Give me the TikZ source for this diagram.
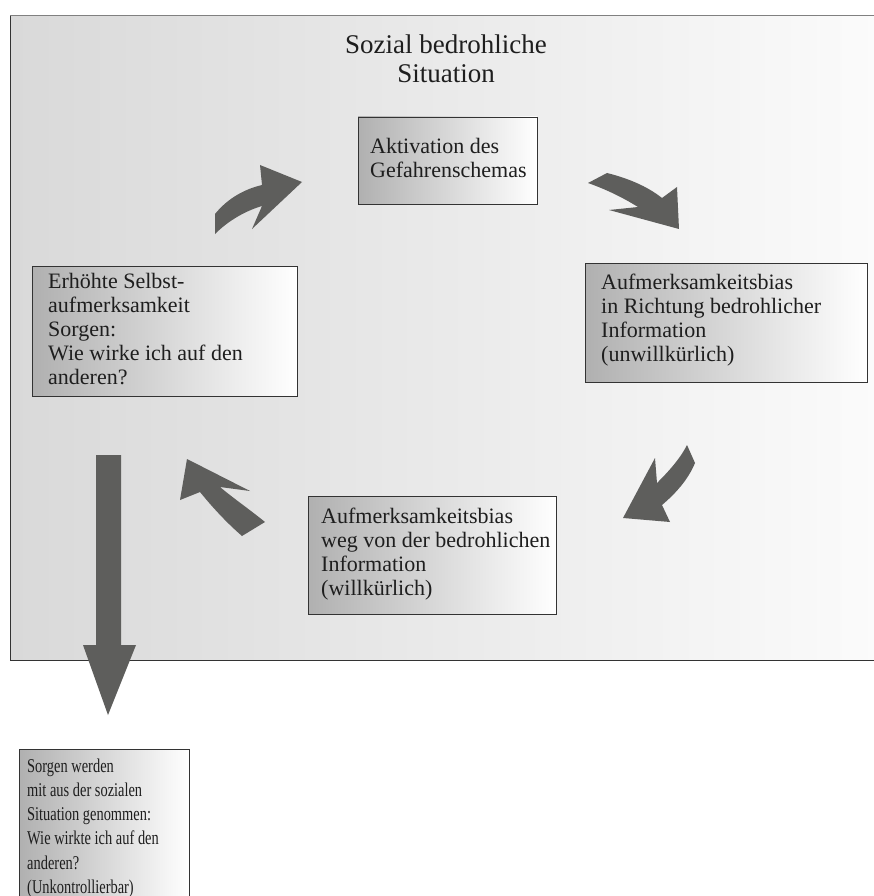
\documentclass[tikz,border=0pt]{standalone}
\usepackage{fontspec}
\setmainfont{Liberation Serif}
\newfontfamily\condfont[FakeStretch=0.74]{Liberation Serif}
\definecolor{frameleft}{HTML}{D9D9D9}
\definecolor{frameright}{HTML}{FBFBFB}
\definecolor{boxleft}{HTML}{B0B0B0}
\definecolor{boxline}{HTML}{333333}
\definecolor{arrowgray}{HTML}{5E5E5C}
\definecolor{txt}{HTML}{1E1E1E}
\begin{document}
\begin{tikzpicture}[x=1pt,y=-1pt,
  box/.style={draw=boxline, line width=0.9pt, left color=boxleft, right color=white, inner sep=0pt},
  boxtext/.style={anchor=west, align=left, text=txt, inner sep=0pt, font=\fontsize{22}{24}\selectfont},
  fatarrow/.style={fill=arrowgray, draw=none}]
\useasboundingbox (0,0) rectangle (874,896);
\clip (0,0) rectangle (874,896);
% outer frame
\fill[left color=frameleft, right color=frameright] (10,16) rectangle (880,660);
\draw[line width=1pt, gray] (880,16) -- (10,16);
\draw[line width=1pt, boxline] (10,16) -- (10,660) -- (880,660);
% title
\node[align=center, text=txt, inner sep=0pt, font=\fontsize{27}{29}\selectfont] (title) at (446,59) {Sozial bedrohliche\\Situation};
% boxes
\node[box, minimum width=179pt, minimum height=87pt] (akt) at (447.5,160.5) {};
\node[boxtext] (akttext) at (370,157.5) {Aktivation des\\Gefahrenschemas};
\node[box, minimum width=282pt, minimum height=119pt] (hin) at (726,322.5) {};
\node[boxtext] (hintext) at (601,320) {Aufmerksamkeitsbias\\in Richtung bedrohlicher\\Information\\(unwillkürlich)};
\node[box, minimum width=248pt, minimum height=118pt] (weg) at (432,555) {};
\node[boxtext] (wegtext) at (321,554) {Aufmerksamkeitsbias\\weg von der bedrohlichen\\Information\\(willkürlich)};
\node[box, minimum width=265pt, minimum height=130pt] (selbst) at (164.5,331) {};
\node[boxtext] (selbsttext) at (48,329) {Erhöhte Selbst-\\aufmerksamkeit\\Sorgen:\\Wie wirke ich auf den\\anderen?};
\node[box, minimum width=170pt, minimum height=170pt, anchor=north] (sorgen) at (104,749) {};
\node[boxtext, font=\condfont\fontsize{19.5}{24.2}\selectfont] (sorgentext) at (27,828) {Sorgen werden\\mit aus der sozialen\\Situation genommen:\\Wie wirkte ich auf den\\anderen?\\(Unkontrollierbar)};
% curved fat arrows
\fill[fatarrow] (215,214) .. controls (228,198) and (245,189) .. (262,185) -- (260,165) -- (302,182) -- (252,229) -- (262,206) .. controls (245,211) and (228,221) .. (215,234) -- cycle;
\fill[fatarrow] (588,183) -- (607,173) .. controls (627,178) and (647,186) .. (662,198) -- (677,187) -- (679,229) -- (609,210) -- (638,207) .. controls (622,197) and (605,189) .. (588,183) -- cycle;
\fill[fatarrow] (687,445) -- (695,463) .. controls (688,480) and (675,494) .. (662,505) -- (670,522) -- (623,518) -- (655,458) -- (657,483) .. controls (668,472) and (680,459) .. (687,445) -- cycle;
\fill[fatarrow] (265,522) .. controls (249,509) and (233,498) .. (220,487) -- (250,491) -- (187,459) -- (180,500) -- (200,492) .. controls (213,508) and (227,523) .. (242,536) -- cycle;
% straight fat arrow
\fill[fatarrow] (96,455) -- (121,455) -- (121,645) -- (136,645) -- (108,715) -- (83,645) -- (96,645) -- cycle;
\end{tikzpicture}
\end{document}
